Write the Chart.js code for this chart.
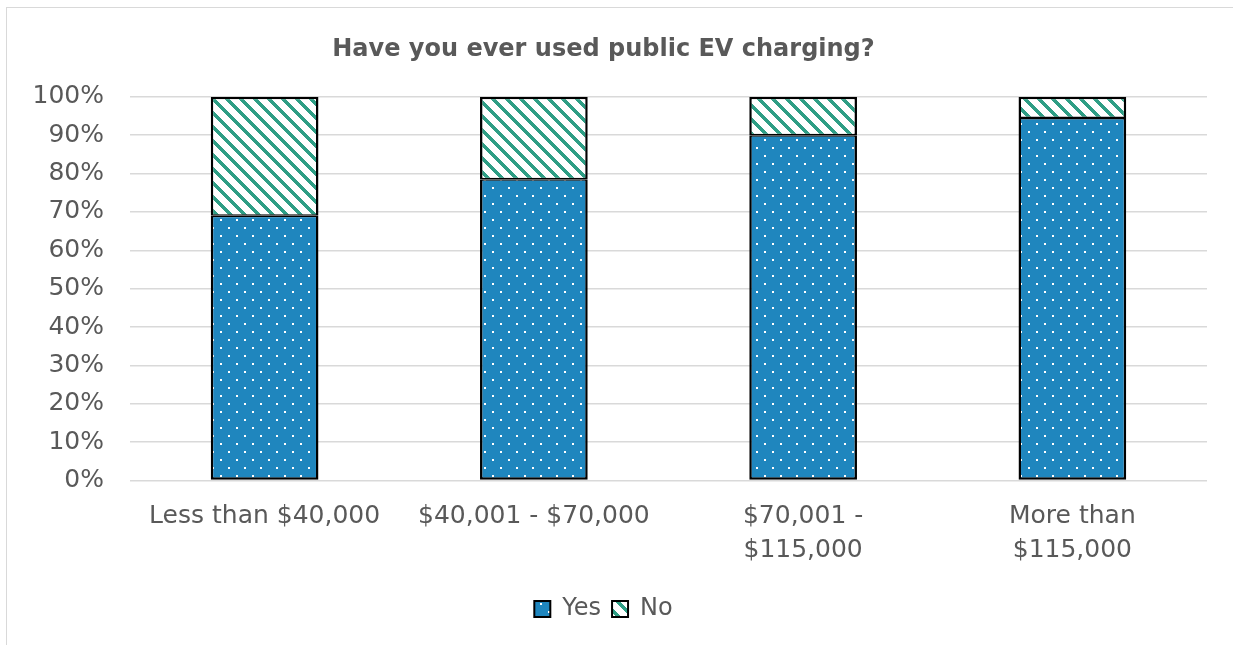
<!DOCTYPE html>
<html>
<head>
<meta charset="utf-8">
<script src="https://cdn.jsdelivr.net/npm/chart.js@4.4.1/dist/chart.umd.min.js"></script>
<style>
  html, body { margin: 0; padding: 0; background: #fff; overflow: hidden; }
  #frame {
    position: absolute; left: 6px; top: 7px; width: 1300px; height: 700px;
    border-left: 1.5px solid #d9d9d9; border-top: 1.5px solid #d9d9d9;
  }
  #wrap { position: absolute; left: 0; top: 0; width: 1233px; height: 645px; }
</style>
</head>
<body>
<div id="frame"></div>
<div id="wrap"><canvas id="chart" width="1233" height="645"></canvas></div>
<script>
// income groups and share of respondents (percent)
const incomeGroups = [
    'Less than $40,000',
    '$40,001 - $70,000',
    ['$70,001 -', '$115,000'],
    ['More than', '$115,000']
];
const yesShare = [69, 78.5, 90, 94.5];
const noShare = [31, 21.5, 10, 5.5];
const seriesNames = ['Yes', 'No'];

const BLUE = '#1f86be';
const GREEN = '#2e9e85';
const TEXT = '#595959';
const FONT = '"DejaVu Sans", sans-serif';

// dotted fill: blue with small white dots, rows offset by half a step
function dotPattern() {
    const c = document.createElement('canvas');
    c.width = 16; c.height = 16;
    const g = c.getContext('2d');
    g.fillStyle = BLUE;
    g.fillRect(0, 0, 16, 16);
    g.fillStyle = '#ffffff';
    g.fillRect(4, 3, 2, 2);
    g.fillRect(12, 11, 2, 2);
    return g.createPattern(c, 'repeat');
}

// wide downward diagonal: green stripes on white
function stripePattern() {
    const n = 14;
    const c = document.createElement('canvas');
    c.width = n; c.height = n;
    const g = c.getContext('2d');
    g.fillStyle = '#ffffff';
    g.fillRect(0, 0, n, n);
    g.fillStyle = GREEN;
    for (let y = 0; y < n; y++) {
        for (let k = 0; k < 5; k++) {
            g.fillRect((y + k) % n, y, 1, 1);
        }
    }
    return g.createPattern(c, 'repeat');
}

const ctx = document.getElementById('chart').getContext('2d');
new Chart(ctx, {
    type: 'bar',
    data: {
        labels: incomeGroups,
        datasets: [
            {
                label: seriesNames[0],
                data: yesShare,
                backgroundColor: dotPattern(),
                borderColor: '#000',
                borderWidth: { top: 1.5, left: 2.5, right: 2.5, bottom: 2.5 },
                borderSkipped: false
            },
            {
                label: seriesNames[1],
                data: noShare,
                backgroundColor: stripePattern(),
                borderColor: '#000',
                borderWidth: { top: 2.5, left: 2.5, right: 2.5, bottom: 1.5 },
                borderSkipped: false
            }
        ]
    },
    options: {
        responsive: false,
        animation: false,
        datasets: { bar: { categoryPercentage: 1, barPercentage: 0.4 } },
        layout: { padding: { left: 0, right: 26, top: 0, bottom: 14 } },
        plugins: {
            tooltip: { enabled: false },
            title: {
                display: true,
                text: 'Have you ever used public EV charging?',
                color: TEXT,
                font: { family: FONT, size: 24, weight: 'bold', lineHeight: 1.2 },
                padding: { top: 35, bottom: 33 }
            },
            legend: {
                position: 'bottom',
                labels: {
                    color: TEXT,
                    font: { family: FONT, size: 24 },
                    boxWidth: 16,
                    boxHeight: 16,
                    padding: 11,
                    generateLabels: chart => {
                        const items = Chart.defaults.plugins.legend.labels.generateLabels(chart);
                        items.forEach(it => { it.lineWidth = 2; });
                        return items;
                    }
                }
            }
        },
        scales: {
            x: {
                stacked: true,
                grid: { display: false, drawTicks: false },
                border: { display: false },
                ticks: {
                    color: TEXT,
                    font: { family: FONT, size: 25, lineHeight: 1.35 },
                    padding: 19,
                    maxRotation: 0,
                    autoSkip: false
                }
            },
            y: {
                stacked: true,
                min: 0,
                max: 100,
                grid: { color: '#d9d9d9', lineWidth: 1.5, drawTicks: false },
                border: { display: false },
                ticks: {
                    stepSize: 10,
                    color: TEXT,
                    font: { family: FONT, size: 25 },
                    padding: 26,
                    callback: v => v + '%'
                },
                afterFit: scale => { scale.width = 130; }
            }
        }
    }
});
</script>
</body>
</html>
